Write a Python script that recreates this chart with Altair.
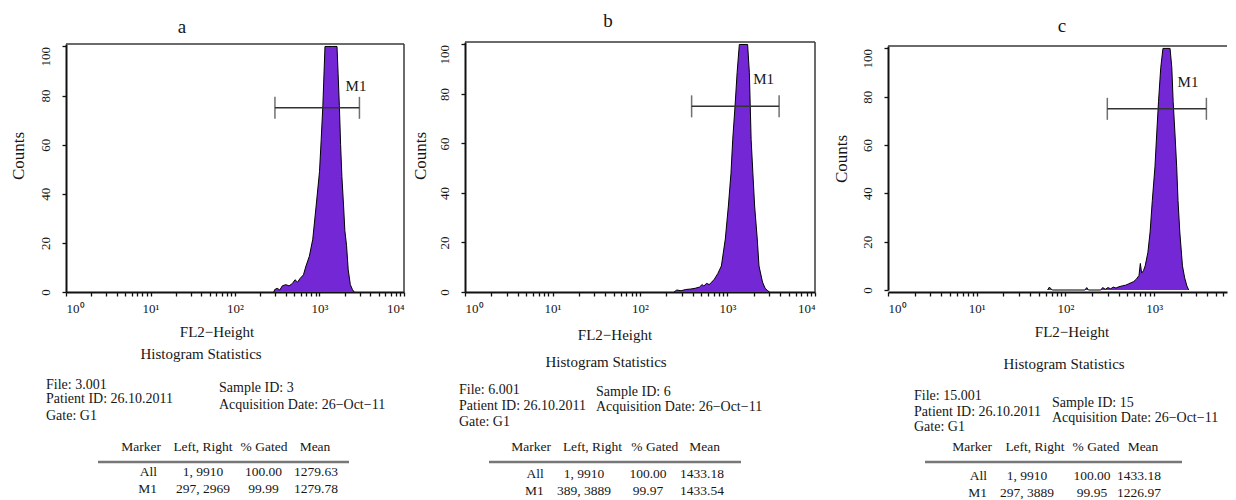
import altair as alt
import pandas as pd

FONT = "Liberation Serif"
PURPLE = "#7427D5"
INK = "#161616"
FRAME = "#3a3a3a"

# ---------------- data ----------------
panel_letters = ["a", "b", "c"]

a_fl2 = [288, 295, 316, 339, 363, 398, 437, 479, 513, 550, 589, 646, 692, 759, 832,
         912, 1000, 1047, 1096, 1161, 1259, 1413, 1611, 1660, 1718, 1778, 1841, 1928,
         1995, 2089, 2188, 2317, 2455, 2570]
a_counts = [0, 1.0, 1.5, 0.8, 2.5, 3.0, 2.5, 3.5, 5.0, 4.0, 5.5, 7, 10.6, 14.6, 21.5,
            35, 49, 62, 76, 100, 100, 100, 100, 89, 76, 60, 47, 35,
            25, 19, 9, 3, 1, 0]

b_fl2 = [245, 263, 295, 331, 380, 427, 479, 513, 537, 575, 617, 661, 708, 776, 851,
         944, 1023, 1096, 1148, 1219, 1288, 1365, 1698, 1778, 1820, 1862, 1950, 2042,
         2188, 2291, 2512, 2692, 2884, 3020]
b_counts = [0, 0.8, 0.5, 1.0, 1.2, 1.5, 2.0, 3.0, 2.4, 3.5, 3.0, 4.0, 5.2, 7.5, 10.5,
            21.4, 34.7, 48, 61.7, 75, 88.6, 100, 100, 88.6, 75, 61.7, 48, 34.7,
            21.4, 10.5, 4, 1.5, 0.5, 0]

c_fl2 = [63, 66, 71, 166, 174, 182, 251, 263, 282, 302, 324, 347, 372, 398, 437,
         479, 513, 550, 589, 631, 676, 700, 724, 759, 794, 851, 902, 955, 1023, 1072,
         1122, 1189, 1259, 1514, 1585, 1641, 1718, 1799, 1862, 1950, 2089, 2213, 2344, 2455]
c_counts = [0, 1.2, 0, 0, 1.0, 0, 0, 1.0, 0.3, 1.0, 0.5, 1.2, 0.8, 1.3, 1.7,
            2.0, 2.5, 3.0, 3.5, 4.5, 6, 11, 7, 8, 10, 15.5, 24, 37, 51, 65,
            78, 92, 100, 100, 92, 78, 65, 51, 37, 24, 10, 5, 1.7, 0]

gate_left = [297, 389, 297]
gate_right = [2969, 3889, 3889]
gate_level = [75, 75, 75]
gate_name = "M1"

file_names = ["3.001", "6.001", "15.001"]
sample_ids = ["3", "6", "15"]
patient_id = "26.10.2011"
acq_date = "26−Oct−11"
gate_id = "G1"

table_header = ["Marker", "Left, Right", "% Gated", "Mean"]
row_all_lr = ["1, 9910", "1, 9910", "1, 9910"]
row_all_gated = ["100.00", "100.00", "100.00"]
row_all_mean = ["1279.63", "1433.18", "1433.18"]
row_m1_lr = ["297, 2969", "389, 3889", "297, 3889"]
row_m1_gated = ["99.99", "99.97", "99.95"]
row_m1_mean = ["1279.78", "1433.54", "1226.97"]

# x axis: FL2-Height channel range; panel c is cropped at the right edge of the figure
x_min = [1, 1, 1]
x_max = [10000, 10000, 6640]
x_tick_values = [1, 2, 3, 4, 5, 6, 7, 8, 9,
                 10, 20, 30, 40, 50, 60, 70, 80, 90,
                 100, 200, 300, 400, 500, 600, 700, 800, 900,
                 1000, 2000, 3000, 4000, 5000, 6000, 7000, 8000, 9000, 10000]
x_decades = [1, 10, 100, 1000, 10000]
x_decade_labels = ["10⁰", "10¹", "10²", "10³", "10⁴"]
y_tick_values = [i * 2.5 for i in range(41)]
y_label_values = [0, 20, 40, 60, 80, 100]

x_expr = " : ".join(f"datum.value == {v} ? '{t}'" for v, t in zip(x_decades, x_decade_labels)) + " : ''"
y_expr = " : ".join(f"datum.value == {v} ? '{v}'" for v in y_label_values) + " : ''"

# ---------------- layout (pixels) ----------------
VIEW_H = 250
TEXT_SHIFT = 2
LAYOUT = [
    dict(view_w=338, axis_w=338, yr=(250, 2), right_frame=True,
         title=(116, -17), counts=(-47, 112), fl2=(151, 288), hs=(135, 310),
         file_x=-20, file_ys=(341, 355, 372), sample_x=153, sample_ys=(344, 361),
         header_y=403, rule_y=418, rule_x=(32, 283), all_y=428, m1_y=445,
         hcols=(95, 137, 198, 249), rcols=(91, 137, 197.5, 250), m1_dx=7, m1_dy=-22),
    dict(view_w=362, axis_w=350, yr=(250, 0), right_frame=True,
         title=(143, -23), counts=(-44, 112), fl2=(150, 291), hs=(141, 318),
         file_x=-6, file_ys=(346, 362, 378), sample_x=131, sample_ys=(348, 363),
         header_y=403, rule_y=418, rule_x=(24, 276), all_y=430, m1_y=447,
         hcols=(86, 127.5, 189.7, 239.7), rcols=(78.7, 119, 183, 237), m1_dx=-5, m1_dy=-27),
    dict(view_w=339, axis_w=339, yr=(248, 4), right_frame=False,
         title=(174, -18), counts=(-46, 115), fl2=(184, 288), hs=(176, 320),
         file_x=26, file_ys=(352, 368, 383), sample_x=164, sample_ys=(359, 374),
         header_y=403, rule_y=418, rule_x=(37, 294), all_y=432, m1_y=449,
         hcols=(104, 147, 208, 255), rcols=(99, 139, 204, 251), m1_dx=-8, m1_dy=-27),
]

ONE = pd.DataFrame({"k": [0]})


def label(text, px, py, size=14, align="left", angle=None):
    kw = dict(text=text, align=align, baseline="middle", font=FONT, fontSize=size, color=INK)
    if angle is not None:
        kw["angle"] = angle
    return alt.Chart(ONE).mark_text(**kw).encode(x=alt.value(px), y=alt.value(py + TEXT_SHIFT))


def panel(i, fl2, counts):
    L = LAYOUT[i]
    df = pd.DataFrame({"fl2": fl2, "count": counts})
    xs = alt.Scale(type="log", domain=[x_min[i], x_max[i]], range=[0, L["axis_w"]], nice=False)
    ys = alt.Scale(domain=[0, 101], range=list(L["yr"]), nice=False, zero=False)
    ticks = [v for v in x_tick_values if x_min[i] <= v <= x_max[i]]
    xaxis = alt.Axis(values=ticks, labelExpr=x_expr, labelOverlap=False,
                     labelPadding=6, labelFontSize=13)
    yaxis = alt.Axis(values=y_tick_values, labelExpr=y_expr, labelOverlap=False,
                     labelAngle=270, labelPadding=10, labelFontSize=13, labelFlush=False,
                     labelAlign={"condition": {"test": f"datum.value == {y_label_values[-1]}",
                                               "value": "right"},
                                 "value": "center"})
    area = alt.Chart(df).mark_area(color=PURPLE, opacity=1, clip=True).encode(
        x=alt.X("fl2:Q", scale=xs, axis=xaxis, title=None),
        y=alt.Y("count:Q", scale=ys, axis=yaxis, title=None),
    )
    outline = alt.Chart(df).mark_line(color="black", strokeWidth=1, clip=True).encode(
        x=alt.X("fl2:Q", title=None), y=alt.Y("count:Q", title=None))

    gdf = pd.DataFrame({"left": [gate_left[i]], "right": [gate_right[i]],
                        "level": [gate_level[i]]})
    bar = alt.Chart(gdf).mark_rule(color="#333333", strokeWidth=1.5).encode(
        x=alt.X("left:Q", title=None), x2="right:Q", y=alt.Y("level:Q", title=None))
    edf = pd.DataFrame({"end": [gate_left[i], gate_right[i]],
                        "level": [gate_level[i], gate_level[i]]})
    ends = alt.Chart(edf).mark_tick(orient="vertical", size=22, thickness=1.5,
                                    color="#333333").encode(
        x=alt.X("end:Q", title=None), y=alt.Y("level:Q", title=None))
    m1 = alt.Chart(gdf).mark_text(text=gate_name, align="right", baseline="middle",
                                  dx=L["m1_dx"], dy=L["m1_dy"], font=FONT, fontSize=15,
                                  color=INK).encode(
        x=alt.X("right:Q", title=None), y=alt.Y("level:Q", title=None))

    # frame (top and right edges of the plot box)
    ytop = min(L["yr"])
    ybot = max(L["yr"])
    layers = [area, outline, bar, ends, m1]
    layers.append(alt.Chart(ONE).mark_rule(color=FRAME, strokeWidth=1.5).encode(
        x=alt.value(0), x2=alt.value(L["axis_w"]), y=alt.value(ytop)))
    if L["right_frame"]:
        layers.append(alt.Chart(ONE).mark_rule(color=FRAME, strokeWidth=1.5).encode(
            x=alt.value(L["axis_w"]), y=alt.value(ytop), y2=alt.value(ybot)))

    texts = [
        label(panel_letters[i], L["title"][0], L["title"][1], size=19, align="center"),
        label("Counts", L["counts"][0], L["counts"][1], size=17, align="center", angle=270),
        label("FL2−Height", L["fl2"][0], L["fl2"][1], size=15, align="center"),
        label("Histogram Statistics", L["hs"][0], L["hs"][1], size=15, align="center"),
        label(f"File: {file_names[i]}", L["file_x"], L["file_ys"][0]),
        label(f"Patient ID: {patient_id}", L["file_x"], L["file_ys"][1]),
        label(f"Gate: {gate_id}", L["file_x"], L["file_ys"][2]),
        label(f"Sample ID: {sample_ids[i]}", L["sample_x"], L["sample_ys"][0]),
        label(f"Acquisition Date: {acq_date}", L["sample_x"], L["sample_ys"][1]),
    ]
    hc = L["hcols"]
    texts.append(label(table_header[0], hc[0], L["header_y"], size=13.5, align="right"))
    for t, cx in zip(table_header[1:], hc[1:]):
        texts.append(label(t, cx, L["header_y"], size=13.5, align="center"))
    rc = L["rcols"]
    for name, yy, vals in [("All", L["all_y"], (row_all_lr[i], row_all_gated[i], row_all_mean[i])),
                           ("M1", L["m1_y"], (row_m1_lr[i], row_m1_gated[i], row_m1_mean[i]))]:
        texts.append(label(name, rc[0], yy, size=13.5, align="right"))
        for t, cx in zip(vals, rc[1:]):
            texts.append(label(t, cx, yy, size=13.5, align="center"))
    layers.append(alt.Chart(ONE).mark_rule(color="#777777", strokeWidth=2.5).encode(
        x=alt.value(L["rule_x"][0]), x2=alt.value(L["rule_x"][1]),
        y=alt.value(L["rule_y"] + TEXT_SHIFT)))

    return alt.layer(*layers, *texts).properties(width=L["view_w"], height=VIEW_H)


pa = panel(0, a_fl2, a_counts)
pb = panel(1, b_fl2, b_counts)
pc = panel(2, c_fl2, c_counts)

chart = alt.hconcat(pa, pb, pc, spacing=61, bounds="flush").properties(
    padding={"left": 2, "top": 4, "right": 0, "bottom": 0}
).configure_view(
    stroke="transparent", strokeWidth=0
).configure_axis(
    domainColor="#111111", domainWidth=2, tickColor="#111111", tickWidth=1.3,
    tickSize=4, labelFont=FONT, labelColor=INK, grid=False
)

chart.save("out.html", embed_options={"renderer": "svg", "actions": False})
